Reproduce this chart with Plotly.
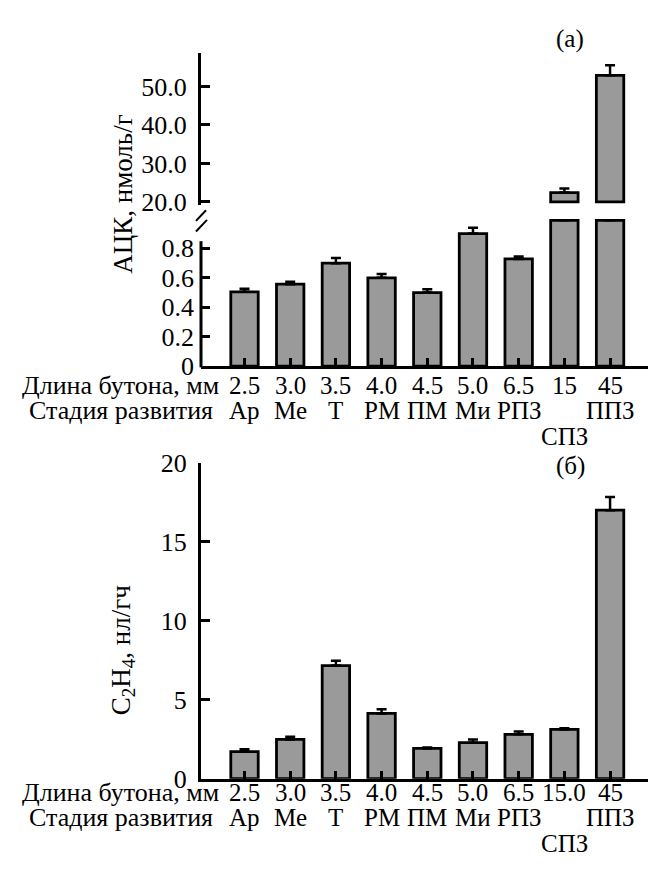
import plotly.graph_objects as go

# ---------------- data ----------------
categories = list(range(9))
bud_len_top = ["2.5", "3.0", "3.5", "4.0", "4.5", "5.0", "6.5", "15", "45"]
bud_len_bot = ["2.5", "3.0", "3.5", "4.0", "4.5", "5.0", "6.5", "15.0", "45"]
stage_row1 = ["Ар", "Ме", "Т", "РМ", "ПМ", "Ми", "РПЗ", "", "ППЗ"]
stage_row2 = ["", "", "", "", "", "", "", "СПЗ", ""]

acc_vals = [0.505, 0.557, 0.699, 0.60, 0.50, 0.90, 0.728, 22.4, 52.9]
acc_err = [0.02, 0.017, 0.035, 0.026, 0.022, 0.04, 0.017, 1.1, 2.65]

eth_vals = [1.71, 2.49, 7.16, 4.13, 1.92, 2.28, 2.81, 3.12, 16.99]
eth_err = [0.15, 0.17, 0.30, 0.26, 0.06, 0.21, 0.18, 0.07, 0.84]

upper_ticks = [20, 30, 40, 50]
upper_ticktext = ["20.0", "30.0", "40.0", "50.0"]
lower_ticks = [0, 0.2, 0.4, 0.6, 0.8]
lower_ticktext = ["0", "0.2", "0.4", "0.6", "0.8"]
bot_ticks = [0, 5, 10, 15, 20]

BREAK_LOW = 0.99     # cap of the lower (broken) axis segment
BREAK_HIGH = 20.0    # start of the upper segment

# ---------------- geometry (pixels) ----------------
W, H = 648, 874
FONT = "'Liberation Serif', 'Times New Roman', 'DejaVu Serif', serif"
GRAY = "#9a9a9a"


def py(p):
    return 1 - p / H


def pxx(p):
    return p / W


AX_X = 201
x_dom = [pxx(AX_X), 1.0]
x_rng = [-0.952, 8.83]

# top lower segment
yl_dom = [py(364.3), py(211.9)]
yl_rng = [0, 1.0]
# top upper segment
yu_dom = [py(198), py(40)]
yu_rng = [19.07, 58.8]
# bottom panel
BOT0 = 791
yb_dom = [py(BOT0), py(464)]
yb_rng = [0, 20]

fig = go.Figure()

bar_style = dict(marker=dict(color=GRAY, line=dict(color="black", width=2.8)),
                 width=0.6, showlegend=False, hoverinfo="skip")
err_style = dict(type="data", symmetric=False, color="black", thickness=2.5, width=5)

# --- top, lower segment
low_vals = [min(v, BREAK_LOW) for v in acc_vals]
fig.add_trace(go.Bar(x=categories, y=low_vals, xaxis="x", yaxis="y", **bar_style))
low_err = [e if v < BREAK_LOW else 0 for v, e in zip(acc_vals, acc_err)]
fig.add_trace(go.Scatter(x=categories, y=low_vals, xaxis="x", yaxis="y", mode="markers",
                         marker=dict(size=1, opacity=0), showlegend=False, hoverinfo="skip",
                         error_y=dict(array=low_err, arrayminus=[0] * 9, **err_style)))

# --- top, upper segment
up_x = [c for c, v in zip(categories, acc_vals) if v > BREAK_HIGH]
up_v = [v for v in acc_vals if v > BREAK_HIGH]
up_e = [e for v, e in zip(acc_vals, acc_err) if v > BREAK_HIGH]
fig.add_trace(go.Bar(x=up_x, y=[v - BREAK_HIGH for v in up_v], base=BREAK_HIGH,
                     xaxis="x2", yaxis="y2", **bar_style))
fig.add_trace(go.Scatter(x=up_x, y=up_v, xaxis="x2", yaxis="y2", mode="markers",
                         marker=dict(size=1, opacity=0), showlegend=False, hoverinfo="skip",
                         error_y=dict(array=up_e, arrayminus=[0] * len(up_e), **err_style)))

# --- bottom
fig.add_trace(go.Bar(x=categories, y=eth_vals, xaxis="x3", yaxis="y3", **bar_style))
fig.add_trace(go.Scatter(x=categories, y=eth_vals, xaxis="x3", yaxis="y3", mode="markers",
                         marker=dict(size=1, opacity=0), showlegend=False, hoverinfo="skip",
                         error_y=dict(array=eth_err, arrayminus=[0] * 9, **err_style)))

tickfont = dict(family=FONT, size=26, color="black")
xcommon = dict(domain=x_dom, range=x_rng, tickvals=categories, showticklabels=False,
               ticks="inside", ticklen=8, tickwidth=2.5, tickcolor="black",
               showline=True, linecolor="black", linewidth=3, showgrid=False, zeroline=False,
               fixedrange=True)
ycommon = dict(ticks="inside", ticklen=9, tickwidth=3, tickcolor="black",
               showgrid=False, zeroline=False, tickfont=tickfont, ticklabelstandoff=6,
               fixedrange=True)

fig.update_layout(
    width=W, height=H,
    margin=dict(l=0, r=0, t=0, b=0),
    paper_bgcolor="white", plot_bgcolor="rgba(0,0,0,0)",
    font=dict(family=FONT, color="black"),
    bargap=0.4,
    xaxis=dict(anchor="y", **xcommon),
    xaxis2=dict(anchor="y2", visible=False, domain=x_dom, range=x_rng, fixedrange=True),
    xaxis3=dict(anchor="y3", **xcommon),
    yaxis=dict(domain=yl_dom, range=yl_rng, anchor="x", tickvals=lower_ticks,
               ticktext=lower_ticktext, showline=False, **ycommon),
    yaxis2=dict(domain=yu_dom, range=yu_rng, anchor="x2", tickvals=upper_ticks,
                ticktext=upper_ticktext, showline=True, linecolor="black", linewidth=3,
                **ycommon),
    yaxis3=dict(domain=yb_dom, range=yb_rng, anchor="x3", tickvals=bot_ticks,
                showline=True, linecolor="black", linewidth=3, **ycommon),
)

# lower-segment axis line (shorter than its domain) and break marks
shapes = [
    dict(type="line", xref="paper", yref="paper", x0=pxx(AX_X), x1=pxx(AX_X),
         y0=py(365.5), y1=py(235), line=dict(color="black", width=3)),
    dict(type="line", xref="paper", yref="paper", x0=pxx(196), x1=pxx(206),
         y0=py(214), y1=py(203), line=dict(color="black", width=2)),
    dict(type="line", xref="paper", yref="paper", x0=pxx(196), x1=pxx(207),
         y0=py(225), y1=py(213), line=dict(color="black", width=2)),
]
fig.update_layout(shapes=shapes)

annots = []
cat_font = dict(family=FONT, size=25, color="black")
row_font = dict(family=FONT, size=26, color="black")


def add_rows(xref, y1, y2, y3, lens):
    annots.append(dict(text="Длина бутона, мм", xref="paper", yref="paper", x=pxx(220),
                       y=py(y1), xanchor="right", yanchor="middle", showarrow=False,
                       font=row_font, borderpad=0))
    annots.append(dict(text="Стадия развития", xref="paper", yref="paper", x=pxx(214),
                       y=py(y2), xanchor="right", yanchor="middle", showarrow=False,
                       font=row_font, borderpad=0))
    for c, t in zip(categories, lens):
        annots.append(dict(text=t, xref=xref, yref="paper", x=c, y=py(y1),
                           xanchor="center", yanchor="middle", showarrow=False,
                           font=cat_font, borderpad=0))
    for c, t in zip(categories, stage_row1):
        if t:
            annots.append(dict(text=t, xref=xref, yref="paper", x=c, y=py(y2),
                               xanchor="center", yanchor="middle", showarrow=False,
                               font=cat_font, borderpad=0))
    for c, t in zip(categories, stage_row2):
        if t:
            annots.append(dict(text=t, xref=xref, yref="paper", x=c, y=py(y3),
                               xanchor="center", yanchor="middle", showarrow=False,
                               font=cat_font, borderpad=0))


add_rows("x", 384, 410, 437, bud_len_top)
add_rows("x3", 805, 831, 858, bud_len_bot)

title_font = dict(family=FONT, size=27, color="black")
annots.append(dict(text="АЦК, нмоль/г", xref="paper", yref="paper", x=pxx(123), y=py(186),
                   textangle=-90, xanchor="center", yanchor="middle", showarrow=False,
                   font=title_font))
annots.append(dict(text="C<sub>2</sub>H<sub>4</sub>, нл/гч", xref="paper", yref="paper",
                   x=pxx(123), y=py(658), textangle=-90, xanchor="center", yanchor="middle",
                   showarrow=False, font=title_font))
annots.append(dict(text="(а)", xref="paper", yref="paper", x=pxx(570), y=py(26),
                   xanchor="center", yanchor="middle", showarrow=False, font=cat_font))
annots.append(dict(text="(б)", xref="paper", yref="paper", x=pxx(570), y=py(467),
                   xanchor="center", yanchor="middle", showarrow=False, font=cat_font))
fig.update_layout(annotations=annots)

fig.write_html("out.html")
